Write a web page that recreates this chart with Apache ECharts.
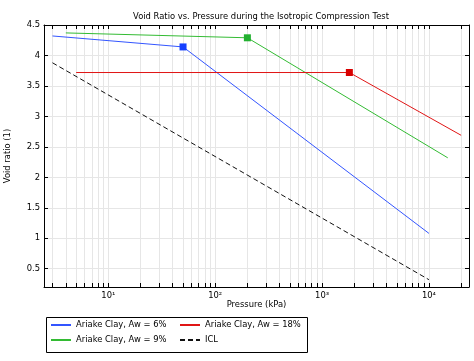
<!DOCTYPE html>
<html>
<head>
<meta charset="utf-8">
<script src="https://cdn.jsdelivr.net/npm/echarts@6/dist/echarts.min.js"></script>
<style>html,body{margin:0;padding:0;background:#fff}#c{width:474px;height:361px}</style>
</head>
<body>
<div id="c"></div>
<script>
// ---- data ----
const seriesNames = ['Ariake Clay, Aw = 6%', 'Ariake Clay, Aw = 9%', 'Ariake Clay, Aw = 18%', 'ICL'];
const pressure6 = [3, 50, 10000];
const voidRatio6 = [4.32, 4.14, 1.08];
const pressure9 = [4, 200, 15000];
const voidRatio9 = [4.37, 4.29, 2.32];
const pressure18 = [5, 1800, 20000];
const voidRatio18 = [3.72, 3.72, 2.69];
const pressureICL = [3, 10000];
const voidRatioICL = [3.88, 0.32];
const markerIndex = 1; // preconsolidation point marked with a square
const xTickValues = [10, 100, 1000, 10000];
const xTickLabels = ['10¹', '10²', '10³', '10⁴'];
const yTickValues = [0.5, 1, 1.5, 2, 2.5, 3, 3.5, 4, 4.5];
const yTickLabels = ['0.5', '1', '1.5', '2', '2.5', '3', '3.5', '4', '4.5'];

const FONT = 'DejaVu Sans';
const FS = 8.4;
const colors = ['#3355ff', '#33bb33', '#e01515', '#111111'];

function build(px, py, withMarker) {
  return px.map((p, i) => {
    const item = { value: [p, py[i]] };
    item.symbol = (withMarker && i === markerIndex) ? 'rect' : 'none';
    return item;
  });
}

function xLabel(v) {
  const k = xTickValues.findIndex(t => Math.abs(t - v) / t < 1e-6);
  return k >= 0 ? xTickLabels[k] : '';
}
function yLabel(v) {
  const k = yTickValues.findIndex(t => Math.abs(t - v) < 1e-6);
  return k >= 0 ? yTickLabels[k] : '';
}

const gridLine = { show: true, lineStyle: { color: '#e6e6e6', width: 1 } };
const xCommon = {
  type: 'log', logBase: 10, min: 2.5, max: 23700,
  axisLine: { show: true, onZero: false, lineStyle: { color: '#000', width: 1 } },
  axisTick: { show: true, inside: true, length: 4, lineStyle: { color: '#000' } },
  minorTick: { show: true, splitNumber: 9, length: 4, lineStyle: { color: '#000' } },
};
const yCommon = {
  type: 'value', min: 0.2, max: 4.5, splitNumber: 9,
  axisLine: { show: true, onZero: false, lineStyle: { color: '#000', width: 1 } },
  axisTick: { show: true, inside: true, length: 4, lineStyle: { color: '#000' } },
};
const legendCommon = {
  orient: 'vertical', top: 321, padding: 0, itemGap: 7, itemWidth: 20, itemHeight: 10,
  itemStyle: { opacity: 0 },
  textStyle: { fontFamily: FONT, fontSize: FS, color: '#000' }
};

const chart = echarts.init(document.getElementById('c'), null, { renderer: 'canvas' });
chart.setOption({
  animation: false,
  textStyle: { fontFamily: FONT },
  title: {
    text: 'Void Ratio vs. Pressure during the Isotropic Compression Test',
    left: 256, top: 8, textAlign: 'center',
    textStyle: { fontFamily: FONT, fontSize: FS, fontWeight: 'normal', color: '#000' }
  },
  grid: { left: 44, right: 5, top: 25, bottom: 74, containLabel: false, outerBoundsMode: 'none' },
  xAxis: [
    Object.assign({}, xCommon, {
      position: 'bottom',
      name: 'Pressure (kPa)', nameLocation: 'middle', nameGap: 14, nameMoveOverlap: false,
      nameTextStyle: { fontFamily: FONT, fontSize: FS, color: '#000' },
      axisLabel: { show: true, margin: 5, fontFamily: FONT, fontSize: FS, color: '#000', formatter: xLabel, showMinLabel: true, showMaxLabel: true },
      splitLine: gridLine,
      minorSplitLine: { show: true, lineStyle: { color: '#e6e6e6', width: 1 } },
    }),
    Object.assign({}, xCommon, {
      position: 'top', axisLabel: { show: false }, splitLine: { show: false }, minorSplitLine: { show: false }
    })
  ],
  yAxis: [
    Object.assign({}, yCommon, {
      position: 'left',
      name: 'Void ratio (1)', nameLocation: 'middle', nameGap: 32, nameRotate: 90,
      nameTextStyle: { fontFamily: FONT, fontSize: FS, color: '#000' },
      axisLabel: { show: true, margin: 4, fontFamily: FONT, fontSize: FS, color: '#000', formatter: yLabel },
      splitLine: gridLine,
    }),
    Object.assign({}, yCommon, {
      position: 'right', axisLabel: { show: false }, splitLine: { show: false }
    })
  ],
  legend: [
    Object.assign({}, legendCommon, { data: [seriesNames[0], seriesNames[1]], left: 50 }),
    Object.assign({}, legendCommon, { data: [seriesNames[2], seriesNames[3]], left: 179 })
  ],
  graphic: [{
    type: 'rect', left: 44, top: 315, silent: true,
    shape: { width: 261, height: 35 },
    style: { fill: 'none', stroke: '#000', lineWidth: 1 }
  }],
  series: [
    { name: seriesNames[0], type: 'line', data: build(pressure6, voidRatio6, true), symbol: 'none', symbolSize: 7,
      showSymbol: true, color: colors[0], lineStyle: { width: 1, color: colors[0] }, itemStyle: { color: '#1540ff' } },
    { name: seriesNames[1], type: 'line', data: build(pressure9, voidRatio9, true), symbol: 'none', symbolSize: 7,
      showSymbol: true, color: colors[1], lineStyle: { width: 1, color: colors[1] }, itemStyle: { color: '#22b030' } },
    { name: seriesNames[2], type: 'line', data: build(pressure18, voidRatio18, true), symbol: 'none', symbolSize: 7,
      showSymbol: true, color: colors[2], lineStyle: { width: 1, color: colors[2] }, itemStyle: { color: '#d80000' } },
    { name: seriesNames[3], type: 'line', data: build(pressureICL, voidRatioICL, false), symbol: 'none',
      color: colors[3], lineStyle: { width: 1, type: [5, 3], color: colors[3] } }
  ]
});
</script>
</body>
</html>
